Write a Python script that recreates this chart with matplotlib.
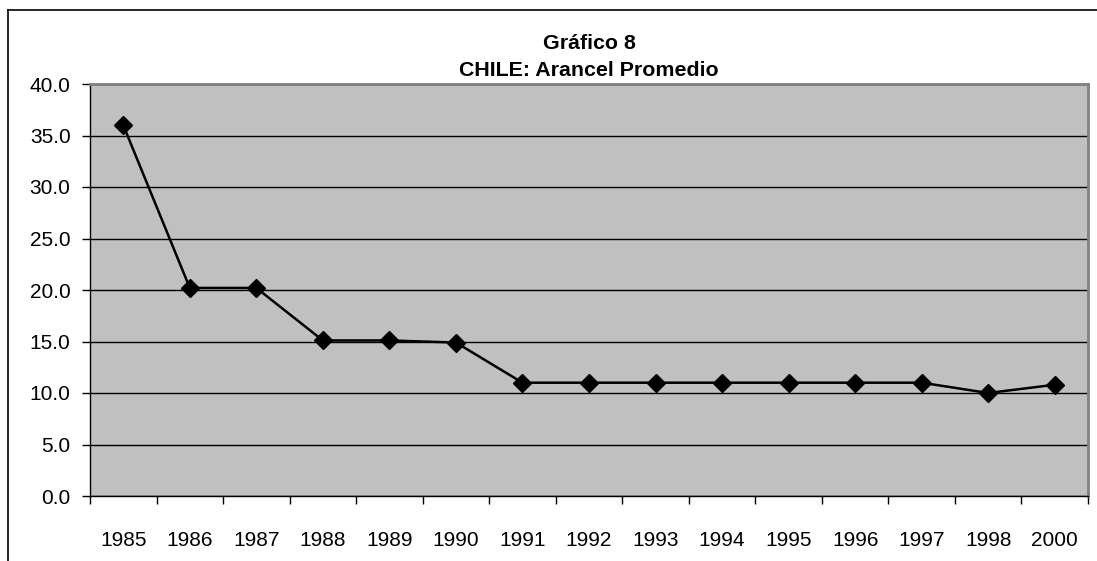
import matplotlib.pyplot as plt
import numpy as np

plt.rcParams['font.family'] = ['Liberation Sans', 'DejaVu Sans']

years = ['1985', '1986', '1987', '1988', '1989', '1990', '1991', '1992',
         '1993', '1994', '1995', '1996', '1997', '1998', '2000']
arancel = [36.0, 20.2, 20.2, 15.1, 15.1, 14.9, 11.0, 11.0,
           11.0, 11.0, 11.0, 11.0, 11.0, 10.0, 10.8]
y_ticks = [0, 5, 10, 15, 20, 25, 30, 35, 40]

fig = plt.figure(figsize=[10.97, 5.61], dpi=100)
ax = fig.add_axes([90 / 1097, 1 - 496 / 561, 998 / 1097, 412 / 561])

x = np.arange(len(years))
ax.set_facecolor('#C0C0C0')
ax.set_axisbelow(True)
ax.yaxis.grid(True, color='black', linewidth=1)
ax.plot(x, arancel, color='black', linewidth=1.8, marker='D',
        markersize=9.5, markerfacecolor='black', zorder=3)

ax.set_xlim(-0.5, len(years) - 0.5)
ax.set_ylim(0, 40)
ax.set_yticks(y_ticks)
ax.set_yticklabels([f"{v:.1f}" for v in y_ticks], fontsize=15)
# category boundaries get the tick marks, labels sit in between
ax.set_xticks(list(x - 0.5) + [len(years) - 0.5])
ax.set_xticklabels([])
ax.set_xticks(x, minor=True)
ax.set_xticklabels(years, minor=True, fontsize=15)
ax.tick_params(axis='x', which='minor', length=0, pad=25)
ax.tick_params(axis='x', which='major', length=6, width=1, direction='out')
ax.tick_params(axis='y', length=6, width=1, direction='out', pad=8)

for side in ['top', 'right']:
    ax.spines[side].set_color('#808080')
    ax.spines[side].set_linewidth(2)
for side in ['left', 'bottom']:
    ax.spines[side].set_color('black')
    ax.spines[side].set_linewidth(1)

ax.set_title("Gráfico 8\nCHILE: Arancel Promedio", fontsize=15.4,
             fontweight='bold', pad=6, linespacing=1.5)

# outer chart frame
fig.add_artist(plt.Line2D([8 / 1097, 8 / 1097], [0, 1 - 10 / 561],
                          color='black', linewidth=1.2))
fig.add_artist(plt.Line2D([8 / 1097, 1], [1 - 10 / 561, 1 - 10 / 561],
                          color='black', linewidth=1.2))

fig.savefig('out.png', dpi=100)
